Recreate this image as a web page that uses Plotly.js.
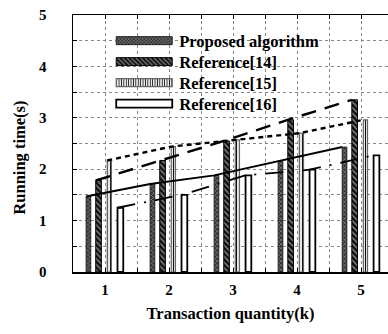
<!DOCTYPE html>
<html>
<head>
<meta charset="utf-8">
<script src="https://cdn.plot.ly/plotly-3.0.1.min.js"></script>
<style>html,body{margin:0;padding:0;background:#fff;}#chart{width:388px;height:334px;}</style>
</head>
<body>
<div id="chart"></div>
<script>
// ---- data ----
const categories = [1, 2, 3, 4, 5];
const tickLabels = ['1', '2', '3', '4', '5'];
const seriesNames = ['Proposed algorithm', 'Reference[14]', 'Reference[15]', 'Reference[16]'];
const proposed = [1.47, 1.71, 1.88, 2.15, 2.43];
const ref14 = [1.78, 2.17, 2.55, 2.96, 3.35];
const ref15 = [2.17, 2.44, 2.57, 2.70, 2.96];
const ref16 = [1.25, 1.50, 1.88, 1.99, 2.27];

// ---- styles ----
const FONT = 'Liberation Serif, Times New Roman, serif';
const series = [proposed, ref14, ref15, ref16];
const offsets = [-0.295, -0.145, 0.035, 0.195];
const widths = [0.072, 0.088, 0.065, 0.09];
const patterns = [
  {shape: 'x', bgcolor: '#333', fgcolor: '#aaa', size: 3, solidity: 0.3},
  {shape: '\\', bgcolor: '#111', fgcolor: '#999', size: 4, solidity: 0.3},
  {shape: '|', bgcolor: '#fff', fgcolor: '#111', size: 3, solidity: 0.4},
  {shape: '', bgcolor: '#fff', fgcolor: '#000', size: 4, solidity: 0.3}
];
const barLines = [
  {color: '#222', width: 1},
  {color: '#000', width: 1},
  {color: '#666', width: 1.2},
  {color: '#000', width: 1.8}
];
const lineStyles = [
  {color: '#000', width: 2, dash: 'solid'},
  {color: '#000', width: 2.4, dash: '15px,9px'},
  {color: '#000', width: 2.4, dash: '5px,4px'},
  {color: '#000', width: 1.8, dash: '18px,9px,2px,9px'}
];

const traces = [];
series.forEach((vals, i) => {
  traces.push({
    type: 'bar', x: categories, y: vals, name: seriesNames[i],
    offset: offsets[i], width: widths[i],
    marker: {color: patterns[i].bgcolor, pattern: patterns[i], line: barLines[i]},
    showlegend: true, hoverinfo: 'skip'
  });
});
series.forEach((vals, i) => {
  traces.push({
    type: 'scatter', mode: 'lines',
    x: categories.map(c => c + offsets[i]), y: vals,
    line: lineStyles[i], showlegend: false, hoverinfo: 'skip'
  });
});

const tickFont = {family: FONT, size: 15, color: '#000', weight: 'bold'};
const layout = {
  width: 388, height: 334,
  margin: {l: 73, r: 0, t: 15, b: 62},
  paper_bgcolor: '#fff', plot_bgcolor: '#fff',
  barmode: 'overlay',
  showlegend: true,
  legend: {x: 0.115, y: 0.975, xanchor: 'left', yanchor: 'top',
           bgcolor: 'rgba(0,0,0,0)', itemwidth: 60,
           font: {family: FONT, size: 16.5, color: '#000', weight: 'bold'},
           traceorder: 'normal', itemclick: false},
  xaxis: {
    range: [0.5, 5.42], tickvals: categories, ticktext: tickLabels,
    showline: true, linecolor: '#000', linewidth: 1.5, mirror: 'ticks',
    ticks: 'inside', ticklen: 4, tickcolor: '#000',
    showgrid: true, gridcolor: '#888', griddash: 'dot', gridwidth: 1,
    minor: {dtick: 0.5, tick0: 0.5, showgrid: true, gridcolor: '#888', griddash: 'dot', ticks: 'inside', ticklen: 4, tickcolor: '#000'},
    tickfont: tickFont, ticklabelstandoff: 3, zeroline: false,
    title: {text: 'Transaction quantity(k)', font: {family: FONT, size: 16.5, color: '#000', weight: 'bold'}, standoff: 11}
  },
  yaxis: {
    range: [0, 5], dtick: 1, tick0: 0,
    showline: true, linecolor: '#000', linewidth: 1.5, mirror: false,
    ticks: 'inside', ticklen: 4, tickcolor: '#000',
    showgrid: true, gridcolor: '#888', griddash: 'dot', gridwidth: 1,
    minor: {dtick: 0.5, showgrid: true, gridcolor: '#888', griddash: 'dot', ticks: 'inside', ticklen: 4, tickcolor: '#000'},
    tickfont: tickFont, ticklabelstandoff: 22, zeroline: false
  },
  annotations: [{
    text: 'Running time(s)', textangle: -90, xref: 'paper', yref: 'paper',
    x: 0, y: 0.445, xanchor: 'center', yanchor: 'middle', xshift: -53, showarrow: false,
    font: {family: FONT, size: 16.5, color: '#000', weight: 'bold'}
  }]
};

Plotly.newPlot('chart', traces, layout, {staticPlot: true, displayModeBar: false}).then(() => {
  const root = document.getElementById('chart');
  root.querySelectorAll('g.legendpoints path').forEach(p => {
    p.setAttribute('d', 'M28,4H-28V-4H28Z');
  });
  const items = root.querySelectorAll('g.legend g.traces');
  let y0 = null;
  items.forEach((g, i) => {
    const m = /translate\(\s*([-\d.]+)[ ,]+([-\d.]+)\s*\)/.exec(g.getAttribute('transform') || '');
    if (!m) return;
    if (y0 === null) { y0 = parseFloat(m[2]) + 2; }
    g.setAttribute('transform', 'translate(' + m[1] + ',' + (y0 + i * 21) + ')');
  });
});
</script>
</body>
</html>
